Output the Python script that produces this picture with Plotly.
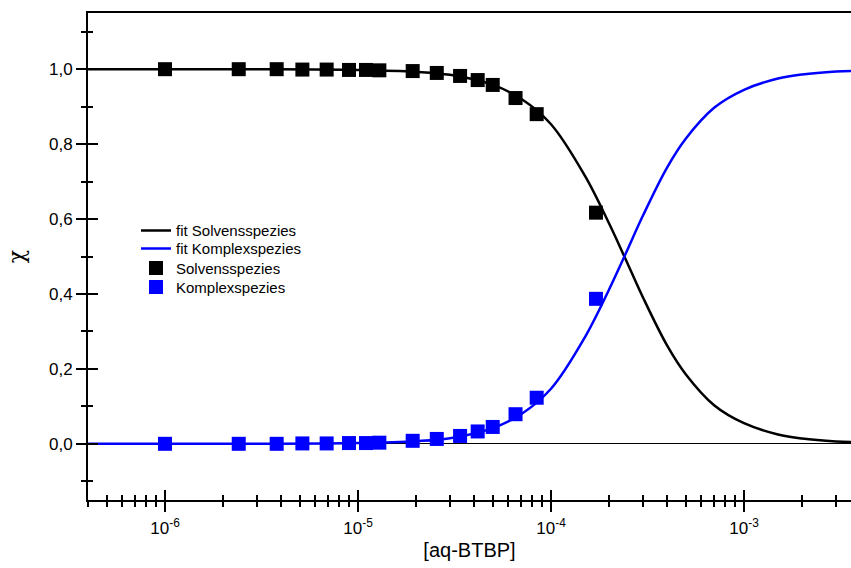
import plotly.graph_objects as go

# ---- data ----
conc = [1.0e-6, 2.41e-6, 3.79e-6, 5.15e-6, 6.88e-6, 8.98e-6, 1.10e-5, 1.29e-5,
        1.92e-5, 2.56e-5, 3.38e-5, 4.17e-5, 4.99e-5, 6.55e-5, 8.43e-5, 1.71e-4]
solvens = [1.000, 1.000, 1.000, 0.999, 0.999, 0.998, 0.998, 0.997,
           0.995, 0.990, 0.982, 0.971, 0.958, 0.923, 0.880, 0.617]
komplex = [0.000, 0.000, 0.000, 0.001, 0.001, 0.002, 0.002, 0.003,
           0.008, 0.013, 0.021, 0.033, 0.045, 0.079, 0.123, 0.387]

fit_x = [4e-7, 1e-6, 3e-6, 1e-5, 2e-5, 3e-5, 5e-5, 7e-5, 1e-4, 1.5e-4, 2e-4,
         2.4e-4, 3e-4, 4e-4, 5e-4, 7e-4, 1e-3, 1.5e-3, 2e-3, 3e-3, 3.6e-3]
fit_solvens = [1.000, 1.000, 0.9998, 0.998, 0.993, 0.985, 0.958, 0.921, 0.853,
               0.715, 0.588, 0.500, 0.390, 0.262, 0.185, 0.103, 0.055, 0.025,
               0.014, 0.006, 0.0045]
fit_komplex = [0.000, 0.000, 0.0002, 0.002, 0.007, 0.015, 0.042, 0.079, 0.147,
               0.285, 0.412, 0.500, 0.610, 0.738, 0.815, 0.897, 0.945, 0.975,
               0.986, 0.994, 0.9955]

x_major = [1e-6, 1e-5, 1e-4, 1e-3]
x_major_text = ["10<sup>-6</sup>", "10<sup>-5</sup>", "10<sup>-4</sup>", "10<sup>-3</sup>"]
x_minor = [k * 10.0 ** e for e in (-7, -6, -5, -4, -3) for k in range(2, 10)]
y_major = [0.0, 0.2, 0.4, 0.6, 0.8, 1.0]

x_range = [-6.399, -2.4456]
y_range = [-0.15, 1.15]

FONT = "Arial, Liberation Sans, sans-serif"
BLUE = "#0000FF"

fig = go.Figure()
fig.add_trace(go.Scatter(x=fit_x, y=fit_solvens, mode="lines", name="fit Solvensspezies",
                         line=dict(color="black", width=2.5, shape="spline"), legend="legend"))
fig.add_trace(go.Scatter(x=fit_x, y=fit_komplex, mode="lines", name="fit Komplexspezies",
                         line=dict(color=BLUE, width=2.5, shape="spline"), legend="legend2"))
fig.add_trace(go.Scatter(x=conc, y=solvens, mode="markers", name="Solvensspezies",
                         marker=dict(symbol="square", size=14, color="black"), legend="legend3"))
fig.add_trace(go.Scatter(x=conc, y=komplex, mode="markers", name="Komplexspezies",
                         marker=dict(symbol="square", size=14, color=BLUE), legend="legend4"))
# empty trace so the inside-tick overlay axes are drawn
fig.add_trace(go.Scatter(x=[None], y=[None], xaxis="x2", yaxis="y2",
                         showlegend=False, hoverinfo="skip"))

axis_common = dict(showgrid=False, tickcolor="black", tickwidth=1.5)


def leg(ypos):
    return dict(x=0.0629, y=ypos, xanchor="left", yanchor="middle",
                bgcolor="rgba(0,0,0,0)", font=dict(size=15, family=FONT),
                itemwidth=30)


fig.update_layout(
    width=851, height=568,
    margin=dict(l=88, r=0, t=13, b=68),
    paper_bgcolor="white", plot_bgcolor="white",
    separators=",.",
    font=dict(family=FONT, color="black"),
    showlegend=True,
    legend=leg(0.553),
    legend2=leg(0.516),
    legend3=leg(0.476),
    legend4=leg(0.437),
    xaxis=dict(type="log", range=x_range, showline=True, linecolor="black", linewidth=2,
               mirror=True, ticks="outside", ticklen=10, tickvals=x_major,
               ticktext=x_major_text, tickfont=dict(size=17, family=FONT),
               ticklabelstandoff=2,
               minor=dict(ticks="outside", ticklen=5, tickvals=x_minor,
                          tickcolor="black", tickwidth=1.5),
               title=dict(text="[aq-BTBP]", font=dict(size=20, family=FONT), standoff=6),
               zeroline=False, **axis_common),
    yaxis=dict(range=y_range, showline=True, linecolor="black", linewidth=2,
               ticks="outside", ticklen=10, tickvals=y_major, tickformat=".1f",
               tickfont=dict(size=17, family=FONT),
               minor=dict(ticks="outside", ticklen=5, dtick=0.1, tick0=0,
                          tickcolor="black", tickwidth=1.5),
               title=dict(text="χ", font=dict(size=22, family="DejaVu Serif"), standoff=18),
               zeroline=True, zerolinecolor="black", zerolinewidth=1, **axis_common),
    xaxis2=dict(type="log", range=x_range, overlaying="x", anchor="y", side="bottom",
                ticks="inside", ticklen=10, tickvals=x_major, showticklabels=False,
                minor=dict(ticks="inside", ticklen=5, tickvals=x_minor,
                           tickcolor="black", tickwidth=1.5),
                showline=False, zeroline=False, **axis_common),
    yaxis2=dict(range=y_range, overlaying="y", anchor="x", side="left",
                ticks="inside", ticklen=10, tickvals=y_major, showticklabels=False,
                minor=dict(ticks="inside", ticklen=5, dtick=0.1, tick0=0,
                           tickcolor="black", tickwidth=1.5),
                showline=False, zeroline=False, **axis_common),
)

fig.write_html("out.html")
